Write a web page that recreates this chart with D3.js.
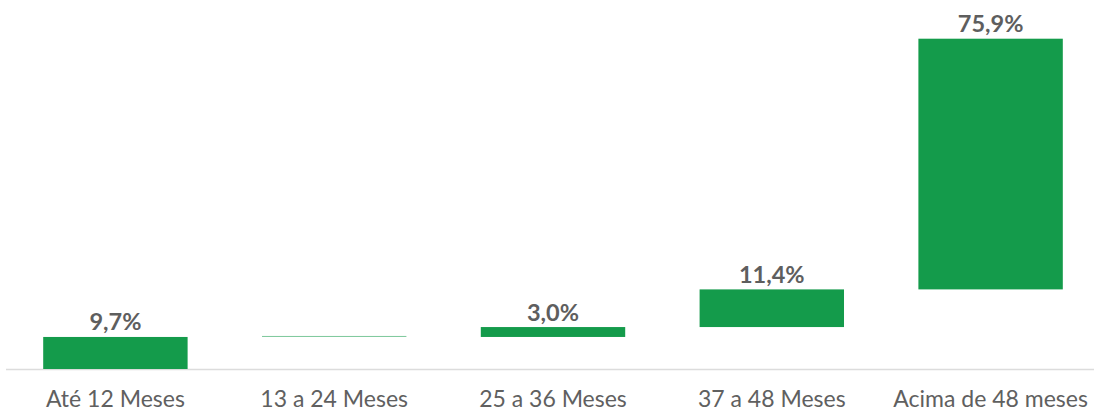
<!DOCTYPE html>
<html>
<head>
<meta charset="utf-8">
<script src="https://cdn.jsdelivr.net/npm/d3@7"></script>
<style>
  html, body { margin: 0; padding: 0; background: #fff; }
  svg { display: block; }
</style>
</head>
<body>
<svg id="chart" width="1094" height="413"></svg>
<script>
const categories = ["Até 12 Meses", "13 a 24 Meses", "25 a 36 Meses", "37 a 48 Meses", "Acima de 48 meses"];
const values = [9.7, 0.0, 3.0, 11.4, 75.9];

const width = 1094;
const baseY = 369;
const topY = 38.7;

// cumulative start/end of each step
let running = 0;
const steps = values.map((v, i) => {
  const start = running;
  running += v;
  return { cat: categories[i], value: v, start: start, end: running };
});

const x = d3.scaleBand()
  .domain(categories)
  .range([6, 1100])
  .paddingInner(0.34)
  .paddingOuter(0.17);

const y = d3.scaleLinear()
  .domain([0, 100])
  .range([baseY, topY]);

const svg = d3.select("#chart");

// baseline
svg.append("line")
  .attr("x1", 6)
  .attr("x2", width)
  .attr("y1", baseY + 0.5)
  .attr("y2", baseY + 0.5)
  .attr("stroke", "#dcdcdc")
  .attr("stroke-width", 1.5);

const bars = svg.append("g").attr("class", "bars");

steps.forEach(d => {
  const h = y(d.start) - y(d.end);
  bars.append("rect")
    .attr("x", x(d.cat))
    .attr("y", h > 0 ? y(d.end) : y(d.end) - 1)
    .attr("width", x.bandwidth())
    .attr("height", Math.max(h, 1))
    .attr("fill", "#149b4b")
    .attr("opacity", h > 0 ? 1 : 0.55);

  // value label
  if (d.value > 0) {
    bars.append("text")
      .attr("x", x(d.cat) + x.bandwidth() / 2)
      .attr("y", y(d.end) - 6.5)
      .attr("text-anchor", "middle")
      .attr("font-family", "Lato, sans-serif")
      .attr("font-size", "23.5px")
      .attr("font-weight", "700")
      .attr("fill", "#5e5e5e")
      .text(d.value.toFixed(1).replace(".", ",") + "%");
  }
});

// category axis
const axis = svg.append("g")
  .attr("transform", "translate(0," + baseY + ")")
  .call(d3.axisBottom(x).tickSize(0).tickPadding(0));
axis.select(".domain").remove();
axis.selectAll("text")
  .attr("y", 38)
  .attr("dy", null)
  .attr("font-family", "Lato, sans-serif")
  .attr("font-size", "23px")
  .attr("fill", "#606060");
</script>
</body>
</html>
